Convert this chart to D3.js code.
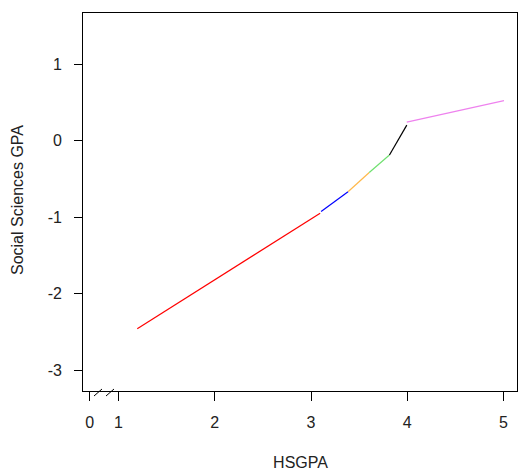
<!DOCTYPE html>
<html>
<head>
<meta charset="utf-8">
<script src="https://cdn.jsdelivr.net/npm/d3@7"></script>
<style>
  body { margin: 0; background: #fff; }
  text { font-family: "Liberation Sans", Arial, sans-serif; fill: #222; }
</style>
</head>
<body>
<div class="chart"></div>
<script>
// segment data
var segColors = ["red", "blue", "#ffb84a", "#6fe06f", "black", "violet"];
var xStart = [1.20, 3.11, 3.39, 3.61, 3.82, 4.00];
var xEnd   = [3.10, 3.39, 3.61, 3.82, 4.00, 5.01];
var yStart = [-2.46, -0.93, -0.67, -0.42, -0.19, 0.24];
var yEnd   = [-0.95, -0.67, -0.42, -0.19, 0.20, 0.52];

// ticks (the "0" sits just past the axis break)
var xTickPos = [0.7, 1, 2, 3, 4, 5];
var xTickLabels = ["0", "1", "2", "3", "4", "5"];
var yTickPos = [-3, -2, -1, 0, 1];

var svgWidth = 519;
var svgHeight = 473;
var plot = { left: 82, top: 12, right: 517, bottom: 391 };

var svg = d3.select(".chart")
            .append("svg")
            .attr("width", svgWidth)
            .attr("height", svgHeight);

var x = d3.scaleLinear().domain([0.626, 5.145]).range([plot.left, plot.right]);
var y = d3.scaleLinear().domain([-3.274, 1.678]).range([plot.bottom, plot.top]);

var segs = segColors.map(function(c, i) {
  return { color: c, x0: xStart[i], x1: xEnd[i], y0: yStart[i], y1: yEnd[i] };
});

svg.selectAll("line.seg")
   .data(segs)
   .enter().append("line")
   .attr("class", "seg")
   .attr("x1", function(d) { return x(d.x0); })
   .attr("y1", function(d) { return y(d.y0); })
   .attr("x2", function(d) { return x(d.x1); })
   .attr("y2", function(d) { return y(d.y1); })
   .attr("stroke", function(d) { return d.color; })
   .attr("stroke-width", 1.2);

// box
svg.append("rect")
   .attr("x", plot.left + 0.5)
   .attr("y", plot.top + 0.5)
   .attr("width", plot.right - plot.left)
   .attr("height", plot.bottom - plot.top)
   .attr("fill", "none")
   .attr("stroke", "#000")
   .attr("stroke-width", 1)
   .attr("shape-rendering", "crispEdges");

// axes
var xAxis = d3.axisBottom(x)
              .tickValues(xTickPos)
              .tickSize(9)
              .tickPadding(16)
              .tickFormat(function(d, i) { return xTickLabels[i]; });
var gx = svg.append("g")
            .attr("transform", "translate(0," + (plot.bottom + 1) + ")")
            .call(xAxis);

var yAxis = d3.axisLeft(y)
              .tickValues(yTickPos)
              .tickSize(8)
              .tickPadding(12)
              .tickFormat(d3.format("d"));
var gy = svg.append("g")
            .attr("transform", "translate(" + plot.left + ",0)")
            .call(yAxis);

[gx, gy].forEach(function(g) {
  g.select(".domain").remove();
  g.selectAll("line").attr("stroke", "#000").attr("shape-rendering", "crispEdges");
  g.selectAll("text")
   .style("font-family", '"Liberation Sans", Arial, sans-serif')
   .style("font-size", "16px")
   .attr("fill", "#222");
});
gy.selectAll("text").text(function(d) { return d < 0 ? "-" + Math.abs(d) : d; });

// axis break slashes
var by = plot.bottom + 1;
[[94, 102], [106, 114]].forEach(function(p) {
  svg.append("line")
     .attr("x1", p[0]).attr("y1", by + 4)
     .attr("x2", p[1]).attr("y2", by - 3)
     .attr("stroke", "#000");
});

// axis titles
svg.append("text")
   .attr("x", (plot.left + plot.right) / 2 + 1)
   .attr("y", 468)
   .attr("text-anchor", "middle")
   .style("font-size", "16px")
   .text("HSGPA");

svg.append("text")
   .attr("transform", "translate(23,200) rotate(-90)")
   .attr("text-anchor", "middle")
   .style("font-size", "16px")
   .text("Social Sciences GPA");
</script>
</body>
</html>
